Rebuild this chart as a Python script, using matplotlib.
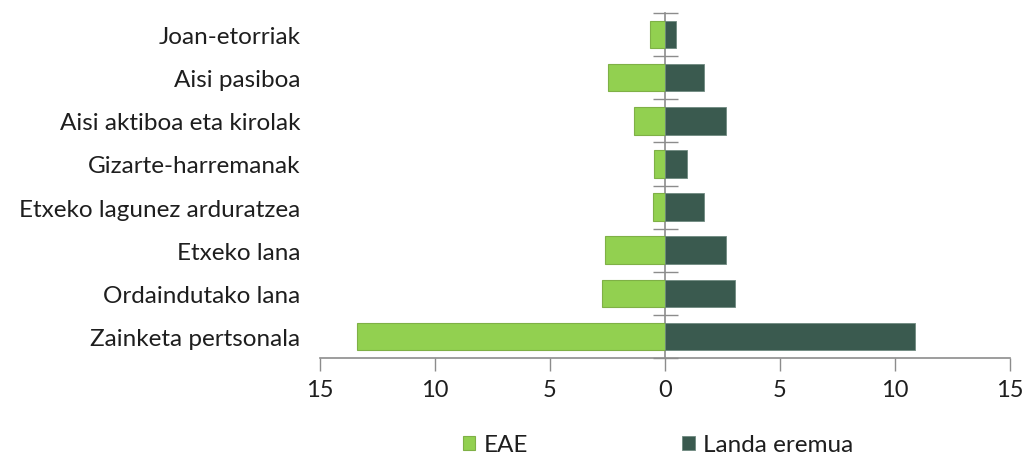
import matplotlib
matplotlib.use("Agg")
import matplotlib.pyplot as plt
import numpy as np
from matplotlib.ticker import FixedLocator, FuncFormatter, NullFormatter

categories = ["Joan-etorriak", "Aisi pasiboa", "Aisi aktiboa eta kirolak",
              "Gizarte-harremanak", "Etxeko lagunez arduratzea", "Etxeko lana",
              "Ordaindutako lana", "Zainketa pertsonala"]
eae = [0.67, 2.5, 1.33, 0.46, 0.53, 2.6, 2.75, 13.4]
landa = [0.47, 1.68, 2.64, 0.96, 1.68, 2.64, 3.04, 10.85]
xticks = [-15, -10, -5, 0, 5, 10, 15]

plt.rcParams['font.family'] = ['Lato', 'DejaVu Sans']
light = '#92D050'
dark = '#3A5A4F'
grey = '#8C8C8C'
txt = '#1E1E1E'

fig = plt.figure(figsize=(10.22, 4.60), dpi=100)
ax = fig.add_axes([320/1022, 1-359/460, 690/1022, 345/460])

y = np.arange(len(categories))
ax.barh(y, -np.array(eae), height=0.64, color=light, edgecolor='#7FB046', linewidth=0.8, label='EAE')
ax.barh(y, landa, height=0.64, color=dark, edgecolor='#6F8A80', linewidth=0.6, label='Landa eremua')

ax.set_xlim(-15, 15)
ax.set_ylim(len(categories) - 0.5, -0.5)

ax.set_xticks(xticks)
ax.xaxis.set_major_formatter(FuncFormatter(lambda v, p: f"{abs(int(v))}"))
ax.tick_params(axis='x', direction='out', length=9, width=1, color=grey,
               labelsize=17, labelcolor=txt, pad=6)

ax.set_yticks(y)
ax.set_yticklabels(categories)
ax.tick_params(axis='y', length=0, labelsize=17.5, labelcolor=txt, pad=14)

for s in ['top', 'right', 'left']:
    ax.spines[s].set_visible(False)
ax.spines['bottom'].set_color(grey)
ax.spines['bottom'].set_linewidth(1.2)

sec = ax.secondary_yaxis(0.5)
for sp in sec.spines.values():
    sp.set_color(grey)
    sp.set_edgecolor(grey)
    sp.set_linewidth(1.2)
sec.yaxis.set_major_locator(FixedLocator(np.arange(len(categories) + 1) - 0.5))
sec.yaxis.set_minor_locator(FixedLocator(y))
sec.yaxis.set_major_formatter(NullFormatter())
sec.yaxis.set_minor_formatter(NullFormatter())
sec.tick_params(axis='y', which='major', direction='inout', length=18, width=1, color=grey)
sec.tick_params(axis='y', which='minor', direction='out', length=7, width=1, color=grey)

handles, labels = ax.get_legend_handles_labels()
fig.legend(handles, labels, loc='center', bbox_to_anchor=(0.644, 1-446/460), ncol=2,
           frameon=False, fontsize=17.5, handlelength=0.5, handleheight=0.5,
           handletextpad=0.35, columnspacing=6.35, labelcolor=txt)

fig.savefig("out.png", dpi=100, facecolor='white')
